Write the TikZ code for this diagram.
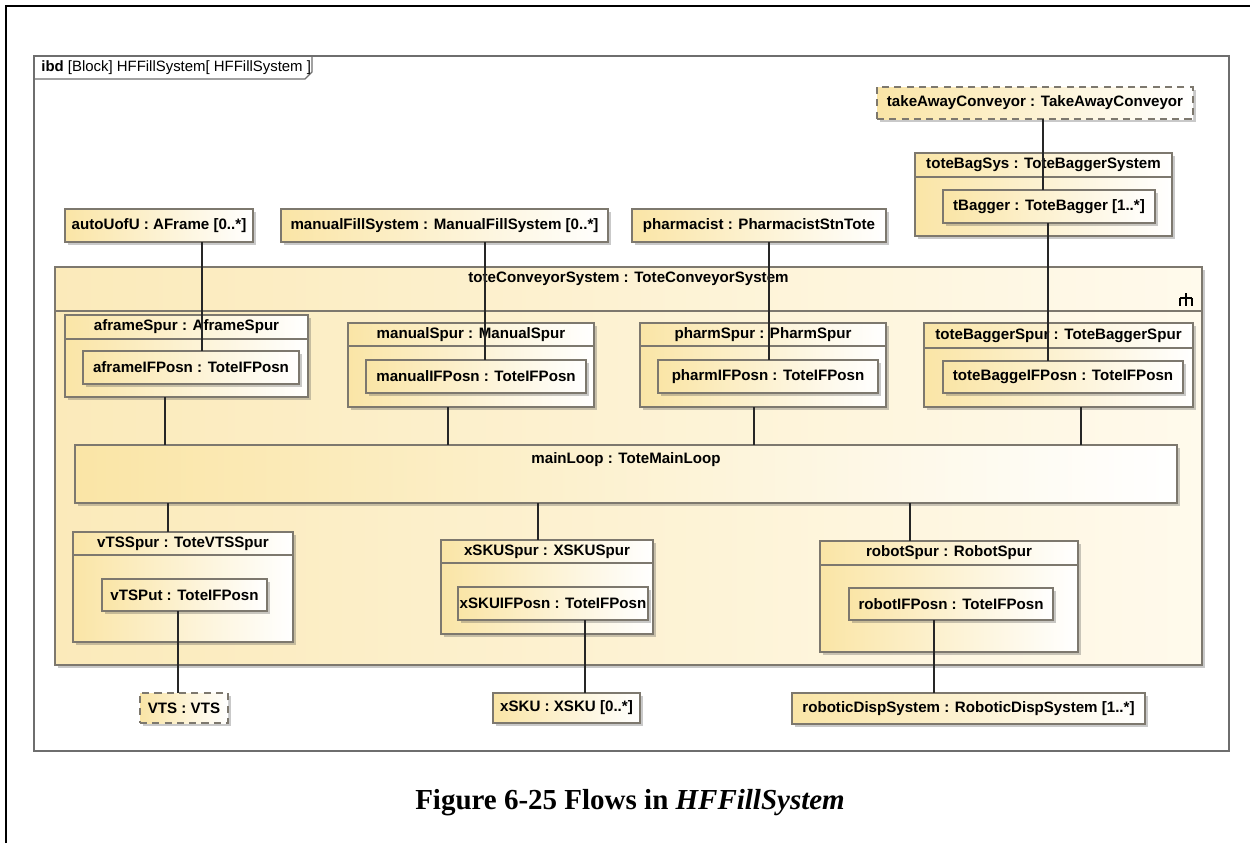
\documentclass[tikz,border=0pt]{standalone}
\usepackage{fontspec}
\setmainfont{Liberation Serif}
\setsansfont{Liberation Sans}
\usetikzlibrary{shadows}
\definecolor{partyel}{RGB}{250,229,166}
\definecolor{sysyel}{RGB}{251,234,186}
\definecolor{syslight}{RGB}{255,250,236}
\definecolor{framegray}{RGB}{110,110,110}
\definecolor{boxgray}{RGB}{125,120,110}

\begin{document}
\begin{tikzpicture}[x=0.02cm,y=-0.02cm,
  sz/.style 2 args={minimum width=#1*0.02cm,minimum height=#2*0.02cm},
  part/.style={draw=boxgray,line width=0.6pt,left color=partyel,right color=white,
    inner sep=0pt,outer sep=0pt,
    drop shadow={shadow xshift=1.6pt,shadow yshift=-1.6pt,opacity=0.3,fill=black!70},
    font=\sffamily\bfseries\fontsize{8.6}{10}\selectfont},
  refpart/.style={part,dash pattern=on 4pt off 3pt},
  sysbox/.style={part,left color=sysyel,right color=syslight},
  ttl/.style={font=\sffamily\bfseries\fontsize{8.6}{10}\selectfont,inner sep=0pt},
  sep/.style={draw=boxgray,line width=0.6pt},
  conn/.style={draw=black!85,line width=0.6pt}]
  \useasboundingbox (0,0) rectangle (1250,843);
  % page and diagram frame
  \draw[line width=1.1pt] (6,843) -- (6,6) -- (1250,6);
  \node[draw=framegray,line width=1.1pt,sz={1195}{695},inner sep=0pt] (frame) at (631.5,403.5) {};
  \draw[framegray,line width=0.7pt] (34,79) -- (305,79) -- (312,72) -- (312,56);
  \node[anchor=west,inner sep=0pt,font=\sffamily\fontsize{8.5}{10}\selectfont] (tab) at (41,67.5)
    {\textbf{ibd} [Block] HFFillSystem[ HFFillSystem ]};

  % outer parts
  \node[refpart,sz={316}{32}] (tac) at (1035,103) {takeAwayConveyor : TakeAwayConveyor};
  \node[part,sz={257}{83}] (tbs) at (1043.5,194.5) {};
  \node[ttl] (tbs-t) at (1043.5,165) {toteBagSys : ToteBaggerSystem};
  \draw[sep] (tbs.west |- 0,177) -- (tbs.east |- 0,177);
  \node[part,sz={212}{33}] (tbg) at (1049,206.5) {tBagger : ToteBagger [1..*]};
  \node[part,sz={188}{33}] (auto) at (159,225.5) {autoUofU : AFrame [0..*]};
  \node[part,sz={327}{33}] (mfs) at (444.5,225.5) {manualFillSystem : ManualFillSystem [0..*]};
  \node[part,sz={254}{33}] (pha) at (759,225.5) {pharmacist : PharmacistStnTote};

  % conveyor system
  \node[sysbox,sz={1147}{398}] (tcs) at (628.5,466) {};
  \node[ttl] (tcs-t) at (628.5,279) {toteConveyorSystem : ToteConveyorSystem};
  \draw[sep] (tcs.west |- 0,311) -- (tcs.east |- 0,311);
  \draw[line width=1pt] (1186,293) -- (1186,306) (1180,298) -- (1192,298)
    (1180,298) -- (1180,306) (1192,298) -- (1192,306);

  \node[part,sz={243}{82}] (afs) at (186.5,356) {};
  \node[ttl] (afs-t) at (186.5,327) {aframeSpur : AframeSpur};
  \draw[sep] (afs.west |- 0,339) -- (afs.east |- 0,339);
  \node[part,sz={216}{33}] (afp) at (191,367.5) {aframeIFPosn : ToteIFPosn};

  \node[part,sz={246}{84}] (mns) at (471,365) {};
  \node[ttl] (mns-t) at (471,334.5) {manualSpur : ManualSpur};
  \draw[sep] (mns.west |- 0,346) -- (mns.east |- 0,346);
  \node[part,sz={220}{33}] (mnp) at (476,376.5) {manualIFPosn : ToteIFPosn};

  \node[part,sz={246}{84}] (phs) at (763,365) {};
  \node[ttl] (phs-t) at (763,334.5) {pharmSpur : PharmSpur};
  \draw[sep] (phs.west |- 0,346) -- (phs.east |- 0,346);
  \node[part,sz={220}{33}] (php) at (768,376.5) {pharmIFPosn : ToteIFPosn};

  \node[part,sz={269}{84}] (tbsp) at (1058.5,365) {};
  \node[ttl] (tbsp-t) at (1058.5,335.5) {toteBaggerSpur : ToteBaggerSpur};
  \draw[sep] (tbsp.west |- 0,348) -- (tbsp.east |- 0,348);
  \node[part,sz={240}{32}] (tbp) at (1063,377) {toteBaggeIFPosn : ToteIFPosn};

  \node[part,sz={1102}{58}] (ml) at (626,474) {};
  \node[ttl] (ml-t) at (626,460) {mainLoop : ToteMainLoop};

  \node[part,sz={220}{110}] (vts) at (183,587) {};
  \node[ttl] (vts-t) at (183,543.5) {vTSSpur : ToteVTSSpur};
  \draw[sep] (vts.west |- 0,555) -- (vts.east |- 0,555);
  \node[part,sz={165}{32}] (vtp) at (184.5,595) {vTSPut : ToteIFPosn};

  \node[part,sz={212}{94}] (xss) at (547,587) {};
  \node[ttl] (xss-t) at (547,551.5) {xSKUSpur : XSKUSpur};
  \draw[sep] (xss.west |- 0,563) -- (xss.east |- 0,563);
  \node[part,sz={190}{33}] (xsp) at (553,603.5) {xSKUIFPosn : ToteIFPosn};

  \node[part,sz={258}{111}] (rbs) at (949,596.5) {};
  \node[ttl] (rbs-t) at (949,553) {robotSpur : RobotSpur};
  \draw[sep] (rbs.west |- 0,565) -- (rbs.east |- 0,565);
  \node[part,sz={204}{32}] (rbp) at (951,604) {robotIFPosn : ToteIFPosn};

  % parts below
  \node[refpart,sz={88}{30}] (vtsx) at (184,708) {VTS : VTS};
  \node[part,sz={147}{30}] (xsku) at (566.5,708) {xSKU : XSKU [0..*]};
  \node[part,sz={353}{31}] (rds) at (968.5,708.5) {roboticDispSystem : RoboticDispSystem [1..*]};

  % connectors
  \draw[conn] (tac.south -| 1043,0) -- (tbg.north -| 1043,0);
  \draw[conn] (tbg.south -| 1048,0) -- (tbp.north -| 1048,0);
  \draw[conn] (auto.south -| 202,0) -- (afp.north -| 202,0);
  \draw[conn] (mfs.south -| 485,0) -- (mnp.north -| 485,0);
  \draw[conn] (pha.south -| 769,0) -- (php.north -| 769,0);
  \draw[conn] (afs.south -| 165,0) -- (ml.north -| 165,0);
  \draw[conn] (mns.south -| 448,0) -- (ml.north -| 448,0);
  \draw[conn] (phs.south -| 754,0) -- (ml.north -| 754,0);
  \draw[conn] (tbsp.south -| 1081,0) -- (ml.north -| 1081,0);
  \draw[conn] (ml.south -| 168,0) -- (vts.north -| 168,0);
  \draw[conn] (ml.south -| 538,0) -- (xss.north -| 538,0);
  \draw[conn] (ml.south -| 910,0) -- (rbs.north -| 910,0);
  \draw[conn] (vtp.south -| 178,0) -- (vtsx.north -| 178,0);
  \draw[conn] (xsp.south -| 585,0) -- (xsku.north -| 585,0);
  \draw[conn] (rbp.south -| 934,0) -- (rds.north -| 934,0);

  % caption
  \node[font=\bfseries\fontsize{16.5}{20}\selectfont,inner sep=0pt] (cap) at (630,803)
    {Figure 6-25 Flows in \textit{HFFillSystem}};
\end{tikzpicture}
\end{document}
